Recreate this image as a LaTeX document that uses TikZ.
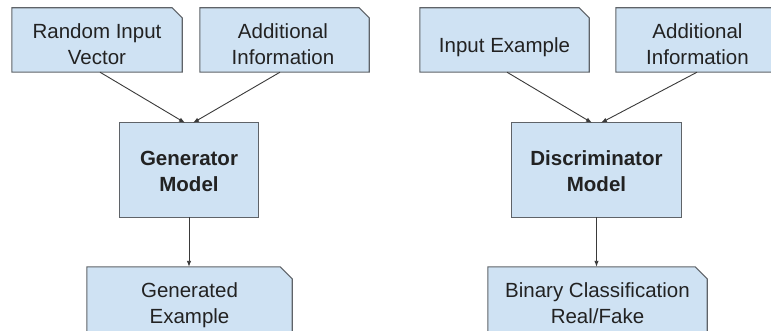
\documentclass[tikz,border=0pt]{standalone}
\usepackage{fontspec}
\setmainfont{Liberation Sans}
\usetikzlibrary{arrows.meta}

\definecolor{panelblue}{HTML}{CFE2F3}
\definecolor{panelline}{HTML}{5F6368}
\definecolor{wire}{HTML}{3A3A3A}
\definecolor{ink}{HTML}{222222}

% first line carries a cap-height strut, all lines are smashed so the
% node centre is the visual centre of the text block
\newcommand\capline[1]{\rule{0pt}{14.7pt}\smash{#1}}
\newcommand\restline[1]{\smash{#1}}

\tikzset{
  frame/.style={rectangle, inner sep=0pt, draw=none},
  panelpath/.style={fill=panelblue, draw=panelline, line width=1.1pt, line join=miter},
  caption/.style={inner sep=0pt, align=center, text=ink,
    font=\fontsize{20.5}{26}\selectfont},
  boldcaption/.style={caption, font=\fontsize{20.5}{26}\selectfont\bfseries},
  wirearrow/.style={draw=wire, line width=0.9pt,
    -{Latex[length=6pt,width=4.5pt]}}
}

% chamfered (top-right corner) panel around a frame node
\newcommand\cutpanel[2]{%
  \path[panelpath] (#1.south west) -- (#1.north west)
    -- ([xshift=-#2pt]#1.north east) -- ([yshift=-#2pt]#1.north east)
    -- (#1.south east) -- cycle;}
\newcommand\plainpanel[1]{%
  \path[panelpath] (#1.south west) rectangle (#1.north east);}

\begin{document}
\begin{tikzpicture}[x=1pt,y=-1pt]
  \useasboundingbox (0,0) rectangle (771,331);
  \clip (0,0) rectangle (771,331);
  \fill[white] (0,0) rectangle (771,331);

  % frames of the panels
  \node[frame, minimum width=170pt, minimum height=64pt] (rin)  at (97,40) {};
  \node[frame, minimum width=169pt, minimum height=64pt] (ginf) at (284.5,40) {};
  \node[frame, minimum width=138pt, minimum height=94pt] (gen)  at (189,170) {};
  \node[frame, minimum width=205pt, minimum height=78pt] (gex)  at (189.5,306) {};

  \node[frame, minimum width=169pt, minimum height=64pt] (iex)  at (504.5,40) {};
  \node[frame, minimum width=166pt, minimum height=64pt] (dinf) at (699,40) {};
  \node[frame, minimum width=169pt, minimum height=94pt] (dis)  at (596.5,170) {};
  \node[frame, minimum width=219pt, minimum height=78pt] (bin)  at (597.5,306) {};

  % panel outlines and fills
  \cutpanel{rin}{10}
  \cutpanel{ginf}{10}
  \plainpanel{gen}
  \cutpanel{gex}{12}
  \cutpanel{iex}{10}
  \cutpanel{dinf}{10}
  \plainpanel{dis}
  \cutpanel{bin}{12}

  % texts
  \node[caption] (rinT)  at (97,44.5)   {\capline{Random Input}\\\restline{Vector}};
  \node[caption] (ginfT) at (283,44.5)  {\capline{Additional}\\\restline{Information}};
  \node[boldcaption] (genT) at (189,171.5) {\capline{Generator}\\\restline{Model}};
  \node[caption] (gexT)  at (189.5,303.5) {\capline{Generated}\\\restline{Example}};

  \node[caption] (iexT)  at (504.5,45)  {\capline{Input Example}};
  \node[caption] (dinfT) at (697.5,44.5) {\capline{Additional}\\\restline{Information}};
  \node[boldcaption] (disT) at (596.5,171.5) {\capline{Discriminator}\\\restline{Model}};
  \node[caption] (binT)  at (597.5,303) {\capline{Binary Classification}\\\restline{Real/Fake}};

  % connectors
  \draw[wirearrow] ([xshift=3pt]rin.south)    -- ([xshift=-4pt]gen.north);
  \draw[wirearrow] ([xshift=-4.5pt]ginf.south) -- ([xshift=4pt]gen.north);
  \draw[wirearrow] (gen.south) -- (gen.south |- gex.north);

  \draw[wirearrow] ([xshift=2.5pt]iex.south)  -- ([xshift=-4.5pt]dis.north);
  \draw[wirearrow] ([xshift=-2pt]dinf.south)  -- ([xshift=4.5pt]dis.north);
  \draw[wirearrow] (dis.south) -- (dis.south |- bin.north);
\end{tikzpicture}
\end{document}
